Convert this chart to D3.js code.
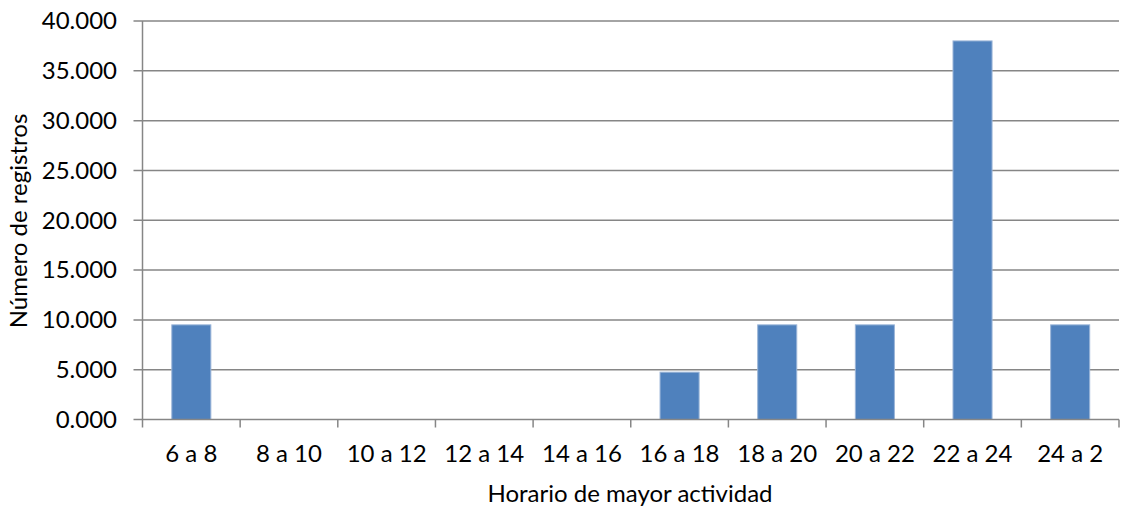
<!DOCTYPE html>
<html>
<head>
<meta charset="utf-8">
<script src="https://cdn.jsdelivr.net/npm/d3@7"></script>
<style>
  html, body { margin: 0; padding: 0; background: #fff; }
  svg { display: block; }
  text { font-family: Lato, "Open Sans", sans-serif; fill: #000; }
</style>
</head>
<body>
<svg id="chart" width="1122" height="510"></svg>
<script>
// Activity windows (two-hour slots) and number of records in each
const categories = ["6 a 8", "8 a 10", "10 a 12", "12 a 14", "14 a 16", "16 a 18", "18 a 20", "20 a 22", "22 a 24", "24 a 2"];
const registros = [9.5, 0, 0, 0, 0, 4.75, 9.5, 9.5, 38.0, 9.5];
const yTicks = [0, 5, 10, 15, 20, 25, 30, 35, 40];

(function () {
  const svg = d3.select("#chart");
  const plotLeft = 142.5, plotRight = 1119, plotTop = 21, plotBottom = 419.5;
  const axisColor = "#868686";
  const fontSize = 24;

  const x = d3.scaleBand().domain(categories).range([plotLeft, plotRight])
    .paddingInner(0.6).paddingOuter(0.3);
  const y = d3.scaleLinear().domain([0, 40]).range([plotBottom, plotTop]);

  // Horizontal gridlines (with the outward tick stubs)
  svg.append("g").selectAll("line").data(yTicks.filter(d => d > 0)).join("line")
    .attr("x1", plotLeft - 9).attr("x2", plotRight)
    .attr("y1", d => y(d)).attr("y2", d => y(d))
    .attr("stroke", axisColor).attr("stroke-width", 1.5);

  // Y axis labels
  svg.append("g").selectAll("text").data(yTicks).join("text")
    .attr("x", 117).attr("y", d => y(d)).attr("dy", "0.35em")
    .attr("text-anchor", "end").attr("font-size", fontSize)
    .text(d => d3.format(".3f")(d));

  // Bars
  svg.append("g").selectAll("rect").data(categories).join("rect")
    .attr("x", d => x(d)).attr("width", x.bandwidth())
    .attr("y", (d, i) => y(registros[i]))
    .attr("height", (d, i) => y(0) - y(registros[i]))
    .attr("fill", "#4F81BD").attr("stroke", "#9BB5D8").attr("stroke-width", 1)
    .attr("display", (d, i) => registros[i] > 0 ? null : "none");

  // Axis lines
  svg.append("line").attr("x1", plotLeft).attr("x2", plotLeft).attr("y1", plotTop).attr("y2", plotBottom)
    .attr("stroke", axisColor).attr("stroke-width", 1.5);
  svg.append("line").attr("x1", plotLeft - 9).attr("x2", plotRight).attr("y1", plotBottom).attr("y2", plotBottom)
    .attr("stroke", axisColor).attr("stroke-width", 1.5);

  // X tick marks on category boundaries
  const step = x.step();
  const boundaries = d3.range(categories.length + 1).map(i => plotLeft + i * step);
  svg.append("g").selectAll("line").data(boundaries).join("line")
    .attr("x1", d => d).attr("x2", d => d).attr("y1", plotBottom).attr("y2", plotBottom + 8)
    .attr("stroke", axisColor).attr("stroke-width", 1.5);

  // X category labels
  svg.append("g").selectAll("text").data(categories).join("text")
    .attr("x", d => x(d) + x.bandwidth() / 2).attr("y", 462)
    .attr("text-anchor", "middle").attr("font-size", fontSize)
    .text(d => d);

  // Axis titles
  svg.append("text").attr("x", 630).attr("y", 502)
    .attr("text-anchor", "middle").attr("font-size", fontSize)
    .text("Horario de mayor actividad");
  svg.append("text").attr("transform", "translate(26.5,221) rotate(-90)")
    .attr("text-anchor", "middle").attr("font-size", fontSize)
    .text("Número de registros");
})();
</script>
</body>
</html>
